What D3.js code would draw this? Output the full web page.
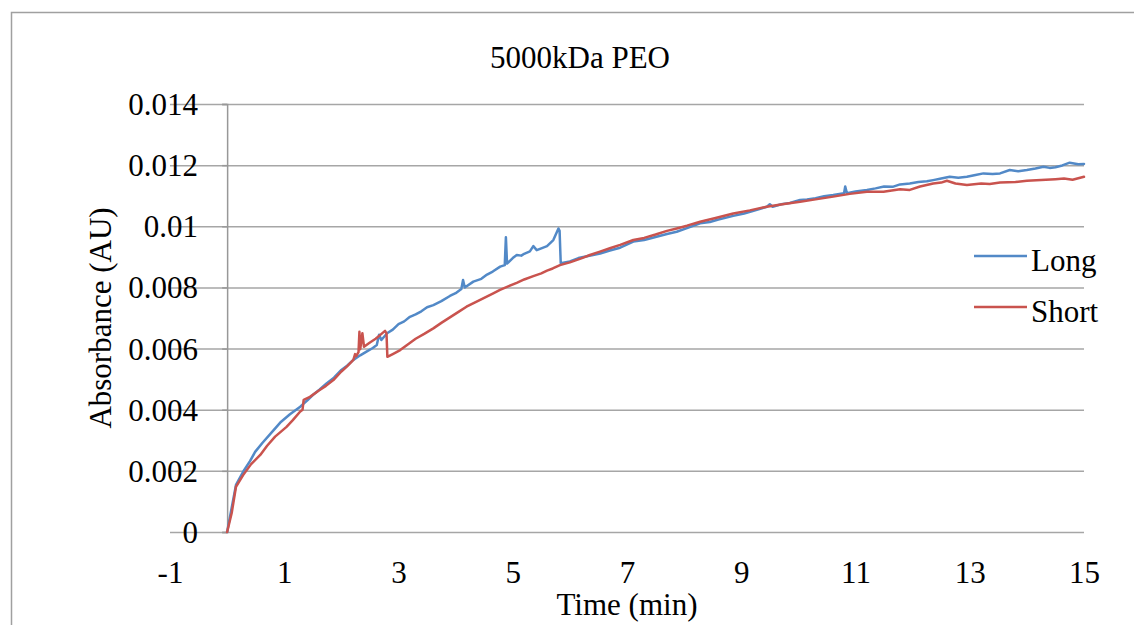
<!DOCTYPE html>
<html><head><meta charset="utf-8">
<script src="https://cdn.jsdelivr.net/npm/d3@7"></script>
<style>
html,body{margin:0;padding:0;background:#fff;overflow:hidden;}
text{font-family:"Liberation Serif","Times New Roman",serif;fill:#000;}
</style></head>
<body><svg id="c" width="1134" height="625"></svg>
<script>
const title = "5000kDa PEO";
const xTitle = "Time (min)";
const yTitle = "Absorbance (AU)";
const seriesNames = ["Long", "Short"];
const xTicks = [-1, 1, 3, 5, 7, 9, 11, 13, 15];
const yTicks = [0, 0.002, 0.004, 0.006, 0.008, 0.01, 0.012, 0.014];

const longTime = [0,0.155,0.28,0.4,0.49,0.62,0.78,0.93,1.1,1.28,1.4,1.5,1.62,1.74,1.87,2.0,2.1,2.21,2.33,2.44,2.55,2.62,2.66,2.70,2.8,2.9,3.0,3.1,3.2,3.3,3.4,3.5,3.61,3.75,3.9,4.0,4.1,4.13,4.16,4.31,4.45,4.55,4.65,4.78,4.86,4.88,4.9,5.0,5.07,5.15,5.2,5.3,5.36,5.42,5.5,5.6,5.71,5.80,5.82,5.84,6.0,6.15,6.3,6.53,6.7,6.88,7.11,7.3,7.5,7.7,7.87,8.05,8.28,8.45,8.6,8.86,9.05,9.2,9.45,9.5,9.55,9.7,9.85,10.03,10.15,10.3,10.45,10.61,10.8,10.82,10.85,11.0,11.2,11.35,11.5,11.65,11.78,11.95,12.1,12.25,12.36,12.5,12.65,12.8,12.95,13.1,13.24,13.4,13.53,13.7,13.85,14.0,14.15,14.29,14.4,14.5,14.62,14.75,14.9,15.0];
const longValue = [0,0.00154,0.00197,0.00232,0.00262,0.00292,0.00326,0.00358,0.00385,0.0041,0.0043,0.00448,0.00466,0.00486,0.00505,0.0053,0.00544,0.00563,0.00578,0.0059,0.00602,0.00612,0.00645,0.00628,0.0065,0.00662,0.0068,0.00689,0.00704,0.00712,0.00722,0.00735,0.00742,0.00755,0.00772,0.00781,0.00795,0.00824,0.008,0.00819,0.00828,0.00842,0.00852,0.00868,0.00873,0.00964,0.00878,0.00896,0.00906,0.00904,0.0091,0.00918,0.00935,0.00922,0.00928,0.00935,0.00955,0.00993,0.00985,0.00879,0.00885,0.00896,0.00902,0.00911,0.00921,0.0093,0.0095,0.00955,0.00965,0.00975,0.00982,0.00994,0.0101,0.01014,0.01022,0.01034,0.01042,0.0105,0.01064,0.01072,0.01064,0.01072,0.01076,0.01086,0.01088,0.01092,0.01098,0.01102,0.01108,0.0113,0.01108,0.01114,0.01119,0.01124,0.0113,0.01129,0.01137,0.0114,0.01145,0.01147,0.01151,0.01156,0.01162,0.01159,0.01162,0.01168,0.01173,0.01171,0.01173,0.01184,0.0118,0.01184,0.01189,0.01195,0.01191,0.01193,0.01199,0.01208,0.01203,0.01204];

const shortTime = [0,0.08,0.155,0.28,0.42,0.58,0.7,0.84,1.04,1.15,1.28,1.32,1.34,1.45,1.6,1.73,1.86,2.0,2.1,2.21,2.24,2.26,2.30,2.316,2.33,2.368,2.396,2.5,2.6,2.676,2.764,2.79,2.805,2.9,3.03,3.15,3.3,3.45,3.61,3.75,3.9,4.05,4.19,4.35,4.5,4.65,4.777,4.9,5.07,5.2,5.36,5.5,5.6,5.7,5.827,6.0,6.2,6.35,6.527,6.7,6.88,7.11,7.3,7.5,7.7,7.87,8.05,8.28,8.55,8.86,9.15,9.445,9.75,10.03,10.3,10.61,10.9,11.2,11.49,11.78,11.95,12.13,12.36,12.5,12.6,12.75,12.95,13.2,13.35,13.53,13.8,14.0,14.25,14.5,14.65,14.8,15.0];
const shortValue = [0,0.00062,0.00148,0.00186,0.00222,0.00252,0.00282,0.00312,0.00344,0.00366,0.00394,0.004,0.00432,0.00442,0.00462,0.00478,0.00497,0.00525,0.00542,0.00563,0.00582,0.00575,0.00588,0.00655,0.00598,0.0065,0.00606,0.0062,0.00632,0.00644,0.00658,0.0065,0.00573,0.00582,0.00595,0.00612,0.00632,0.00648,0.00666,0.00684,0.00702,0.0072,0.00737,0.00752,0.00766,0.0078,0.00792,0.00802,0.00815,0.00826,0.00837,0.00846,0.00855,0.00862,0.00873,0.00882,0.00895,0.00906,0.00917,0.00928,0.00939,0.00955,0.00962,0.00973,0.00985,0.00993,0.01002,0.01015,0.01027,0.01042,0.01052,0.01064,0.01073,0.0108,0.01088,0.01097,0.01106,0.01113,0.01113,0.01121,0.01119,0.0113,0.0114,0.01143,0.01149,0.0114,0.01135,0.0114,0.01138,0.01143,0.01145,0.01149,0.01151,0.01154,0.01156,0.01152,0.01162];

const colors = ["#5289c7", "#c9534e"];

const svg = d3.select("#c");
const plotL = 170, plotR = 1084, plotT = 104, plotB = 532;
const x = d3.scaleLinear().domain([-1, 15]).range([plotL, plotR]);
const y = d3.scaleLinear().domain([0, 0.014]).range([plotB, plotT]);
const fmtY = d => String(+d.toFixed(3));

// outer chart border
svg.append("rect").attr("x", 11.5).attr("y", 12.5).attr("width", 1300).attr("height", 800)
  .attr("fill", "none").attr("stroke", "#a0a0a0").attr("stroke-width", 1.5);

// horizontal gridlines
const yAxis = d3.axisLeft(y).tickValues(yTicks).tickSize(-(plotR - plotL)).tickFormat(fmtY);
const gy = svg.append("g").attr("transform", `translate(${plotL},0)`).call(yAxis);
gy.select(".domain").remove();
gy.selectAll(".tick line").attr("stroke", "#a6a6a6").attr("stroke-width", 1.5);
gy.selectAll(".tick text").remove();

// y tick labels next to the x=0 axis
svg.append("g").selectAll("text").data(yTicks).join("text")
  .attr("x", 198).attr("y", d => y(d) + 11)
  .attr("text-anchor", "end").attr("font-size", 31)
  .text(fmtY);

// vertical axis at x=0
const vAxis = d3.axisLeft(y).tickValues(yTicks).tickSize(5).tickFormat("");
const gv = svg.append("g").attr("transform", `translate(${x(0)},0)`).call(vAxis);
gv.select(".domain").attr("stroke", "#989898").attr("stroke-width", 1.5);
gv.selectAll(".tick line").attr("stroke", "#989898").attr("stroke-width", 1.5);

// x axis labels
const xAxis = d3.axisBottom(x).tickValues(xTicks).tickSize(0).tickFormat(d => String(d));
const gx = svg.append("g").attr("transform", `translate(0,${plotB})`).call(xAxis);
gx.select(".domain").remove();
gx.selectAll(".tick text").attr("font-size", 31).attr("dy", 0).attr("y", 51)
  .style("font-family", "Liberation Serif, Times New Roman, serif");

// series
const line = d3.line().x(d => x(d[0])).y(d => y(d[1]));
const series = [
  d3.zip(longTime, longValue),
  d3.zip(shortTime, shortValue)
];
series.forEach((s, i) => {
  svg.append("path").datum(s).attr("d", line)
    .attr("fill", "none").attr("stroke", colors[i]).attr("stroke-width", 2.5)
    .attr("stroke-linejoin", "round").attr("stroke-linecap", "round");
});

// title
svg.append("text").attr("x", 580).attr("y", 68).attr("text-anchor", "middle")
  .attr("font-size", 31).text(title);
// axis titles
svg.append("text").attr("x", (plotL + plotR) / 2).attr("y", 615).attr("text-anchor", "middle")
  .attr("font-size", 31).text(xTitle);
svg.append("text").attr("transform", `translate(111,${(plotT + plotB) / 2}) rotate(-90)`)
  .attr("text-anchor", "middle").attr("font-size", 31).text(yTitle);

// legend
const lg = svg.append("g");
seriesNames.forEach((n, i) => {
  const ly = 256 + i * 51;
  lg.append("line").attr("x1", 974).attr("x2", 1027).attr("y1", ly).attr("y2", ly)
    .attr("stroke", colors[i]).attr("stroke-width", 2.5);
  lg.append("text").attr("x", 1031).attr("y", ly + 15).attr("font-size", 31).text(n);
});
</script></body></html>
